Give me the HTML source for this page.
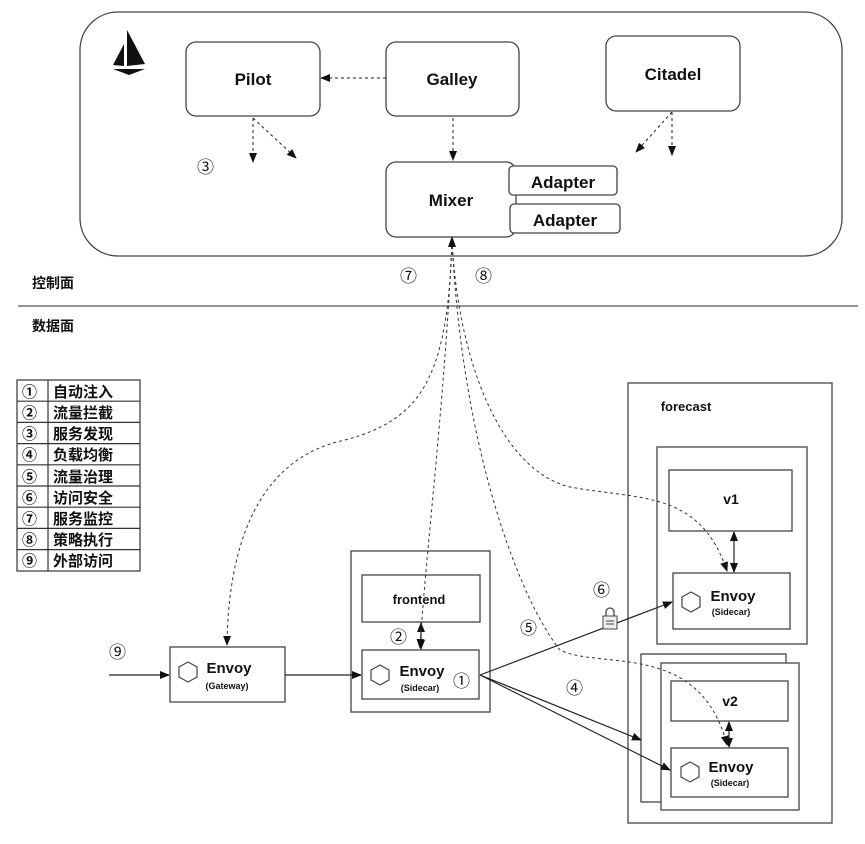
<!DOCTYPE html>
<html><head><meta charset="utf-8"><style>
html,body{margin:0;padding:0;background:#fff;}
svg text{font-family:"Liberation Sans","Noto Sans CJK SC",sans-serif;}
svg text.c{font-family:"Noto Sans CJK SC",sans-serif;}
</style></head><body>
<svg width="865" height="839" viewBox="0 0 865 839" xmlns="http://www.w3.org/2000/svg">
<defs>
<marker id="a" markerWidth="10" markerHeight="8" refX="9" refY="4" orient="auto" markerUnits="userSpaceOnUse"><path d="M0,0 L10,4 L0,8 z" fill="#111"/></marker>
<marker id="as" markerWidth="10" markerHeight="8" refX="1" refY="4" orient="auto" markerUnits="userSpaceOnUse"><path d="M10,0 L0,4 L10,8 z" fill="#111"/></marker>
</defs>
<g fill="none" stroke="#444" stroke-width="1.3">
<rect x="80" y="12" width="762" height="244" rx="38"/>
<rect x="186" y="42" width="134" height="74" rx="10"/>
<rect x="386" y="42" width="133" height="74" rx="10"/>
<rect x="606" y="36" width="134" height="75" rx="10"/>
<rect x="386" y="162" width="130" height="75" rx="10"/>
<rect x="509" y="166" width="108" height="29" rx="4" fill="#fff"/>
<rect x="510" y="204" width="110" height="29" rx="4" fill="#fff"/>
</g>
<path d="M127,30 L127,66 L145,64 Z" fill="#111"/>
<path d="M124,44 L124,66 L113,65 Z" fill="#111"/>
<path d="M113,69 L145,69 L129,75 Z" fill="#111"/>
<g font-weight="bold" font-size="17" fill="#111" text-anchor="middle">
<text x="253" y="85">Pilot</text>
<text x="452" y="85">Galley</text>
<text x="673" y="80">Citadel</text>
<text x="451" y="206">Mixer</text>
<text x="563" y="188">Adapter</text>
<text x="565" y="226">Adapter</text>
</g>
<g stroke="#222" stroke-width="1" stroke-dasharray="3,3" fill="none" marker-end="url(#a)">
<line x1="386" y1="78" x2="321" y2="78"/>
<line x1="453" y1="118" x2="453" y2="160"/>
<line x1="253" y1="118" x2="253" y2="162"/>
<line x1="253" y1="118" x2="296" y2="158"/>
<line x1="672" y1="112" x2="672" y2="155"/>
<line x1="672" y1="112" x2="636" y2="152"/>
</g>
<g font-size="17" fill="#111" class="c">
<text class="c" x="197" y="173">③</text>
<text class="c" x="400" y="282">⑦</text>
<text class="c" x="475" y="282">⑧</text>
<text class="c" x="390" y="643">②</text>
<text class="c" x="453" y="687">①</text>
<text class="c" x="109" y="658">⑨</text>
<text class="c" x="593" y="596">⑥</text>
<text class="c" x="520" y="634">⑤</text>
<text class="c" x="566" y="694">④</text>
</g>
<g font-size="14" font-weight="bold" fill="#111">
<text class="c" x="32" y="288">控制面</text>
<text class="c" x="32" y="331">数据面</text>
</g>
<line x1="18" y1="306" x2="858" y2="306" stroke="#555" stroke-width="1.3"/>
<!-- legend -->
<g stroke="#333" stroke-width="1.2" fill="none">
<rect x="17" y="380" width="123" height="191"/>
<line x1="48" y1="380" x2="48" y2="571"/>
<line x1="17" y1="401.2" x2="140" y2="401.2"/><line x1="17" y1="422.4" x2="140" y2="422.4"/><line x1="17" y1="443.6" x2="140" y2="443.6"/><line x1="17" y1="464.8" x2="140" y2="464.8"/><line x1="17" y1="486" x2="140" y2="486"/><line x1="17" y1="507.2" x2="140" y2="507.2"/><line x1="17" y1="528.4" x2="140" y2="528.4"/><line x1="17" y1="549.6" x2="140" y2="549.6"/>
</g>
<g font-size="15" fill="#111" font-weight="bold">
<text class="c" x="22" y="397">①</text><text class="c" x="53" y="397">自动注入</text>
<text class="c" x="22" y="418">②</text><text class="c" x="53" y="418">流量拦截</text>
<text class="c" x="22" y="439">③</text><text class="c" x="53" y="439">服务发现</text>
<text class="c" x="22" y="460">④</text><text class="c" x="53" y="460">负载均衡</text>
<text class="c" x="22" y="482">⑤</text><text class="c" x="53" y="482">流量治理</text>
<text class="c" x="22" y="503">⑥</text><text class="c" x="53" y="503">访问安全</text>
<text class="c" x="22" y="524">⑦</text><text class="c" x="53" y="524">服务监控</text>
<text class="c" x="22" y="545">⑧</text><text class="c" x="53" y="545">策略执行</text>
<text class="c" x="22" y="566">⑨</text><text class="c" x="53" y="566">外部访问</text>
</g>
<!-- data plane boxes -->
<g fill="none" stroke="#444" stroke-width="1.3">
<rect x="170" y="647" width="115" height="55"/>
<rect x="351" y="551" width="139" height="161"/>
<rect x="362" y="575" width="118" height="47"/>
<rect x="362" y="650" width="117" height="49"/>
<rect x="628" y="383" width="204" height="440"/>
<rect x="657" y="447" width="150" height="197"/>
<rect x="669" y="470" width="123" height="61"/>
<rect x="673" y="573" width="117" height="56"/>
<rect x="641" y="654" width="145" height="148"/>
<rect x="661" y="663" width="138" height="147" fill="#fff"/>
<rect x="671" y="681" width="117" height="40"/>
<rect x="671" y="748" width="117" height="49"/>
</g>
<g fill="none" stroke="#444" stroke-width="1.2">
<polygon points="188,662 197,667 197,677 188,682 179,677 179,667"/>
<polygon points="380,665 389,670 389,680 380,685 371,680 371,670"/>
<polygon points="691,592 700,597 700,607 691,612 682,607 682,597"/>
<polygon points="690,762 699,767 699,777 690,782 681,777 681,767"/>
</g>
<g font-weight="bold" fill="#111" text-anchor="middle">
<text x="229" y="673" font-size="15">Envoy</text>
<text x="227" y="689" font-size="9">(Gateway)</text>
<text x="422" y="676" font-size="15">Envoy</text>
<text x="420" y="691" font-size="9">(Sidecar)</text>
<text x="419" y="604" font-size="13">frontend</text>
<text x="686" y="411" font-size="13">forecast</text>
<text x="731" y="504" font-size="14">v1</text>
<text x="730" y="706" font-size="14">v2</text>
<text x="733" y="601" font-size="15">Envoy</text>
<text x="731" y="615" font-size="9">(Sidecar)</text>
<text x="731" y="772" font-size="15">Envoy</text>
<text x="730" y="786" font-size="9">(Sidecar)</text>
</g>
<!-- solid connectors -->
<g stroke="#222" stroke-width="1.2" fill="none" marker-end="url(#a)">
<line x1="109" y1="675" x2="169" y2="675"/>
<line x1="285" y1="675" x2="361" y2="675"/>
<line x1="480" y1="675" x2="672" y2="602"/>
<line x1="480" y1="675" x2="641" y2="740"/>
<line x1="480" y1="675" x2="670" y2="770"/>
<line x1="421" y1="623" x2="421" y2="649" marker-start="url(#as)"/>
<line x1="734" y1="532" x2="734" y2="572" marker-start="url(#as)"/>
<line x1="729" y1="722" x2="729" y2="747" marker-start="url(#as)"/>
</g>
<!-- lock -->
<rect x="603" y="616" width="14" height="13" fill="#eee" stroke="#444" stroke-width="1"/>
<path d="M606,616 v-4 a4,4 0 0 1 8,0 v4" fill="none" stroke="#444" stroke-width="1.3"/>
<line x1="606" y1="621" x2="614" y2="621" stroke="#444"/><line x1="606" y1="624" x2="614" y2="624" stroke="#444"/>
<!-- dashed curves -->
<g stroke="#333" stroke-width="1" stroke-dasharray="3,3" fill="none">
<path d="M452,240 C448,380 420,420 345,440 C250,460 228,560 227,645" marker-end="url(#a)"/>
<path d="M452,240 C445,400 425,560 420,648" marker-end="url(#a)"/>
<path d="M452,240 C462,450 520,600 560,650 C600,670 700,640 727,745" marker-end="url(#a)"/>
<path d="M452,240 C458,360 500,470 570,487 C640,500 700,490 727,571" marker-end="url(#a)"/>
</g>
<polygon points="452,236 448,247 456,247" fill="#111"/>
</svg>
</body></html>
